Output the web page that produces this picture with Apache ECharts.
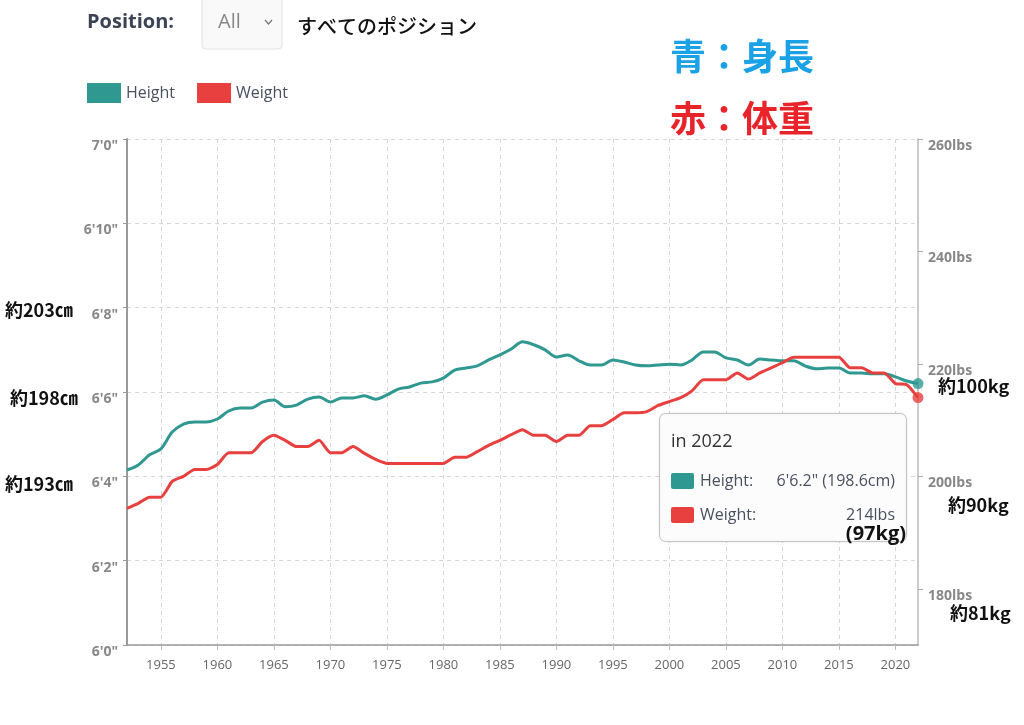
<!DOCTYPE html>
<html><head><meta charset="utf-8">
<script src="https://cdn.jsdelivr.net/npm/echarts@6/dist/echarts.min.js"></script>
<style>html,body{margin:0;padding:0;background:#fff}#c{width:1024px;height:725px}</style>
</head><body><div id="c"></div>
<script>
const years = ['1952','1953','1954','1955','1956','1957','1958','1959',
 '1960','1961','1962','1963','1964','1965','1966','1967','1968','1969',
 '1970','1971','1972','1973','1974','1975','1976','1977','1978','1979',
 '1980','1981','1982','1983','1984','1985','1986','1987','1988','1989',
 '1990','1991','1992','1993','1994','1995','1996','1997','1998','1999',
 '2000','2001','2002','2003','2004','2005','2006','2007','2008','2009',
 '2010','2011','2012','2013','2014','2015','2016','2017','2018','2019',
 '2020','2021','2022'];
// average height in inches
const heights = [76.15,76.27,76.51,76.65,77.05,77.24,77.29,77.29,
 77.36,77.55,77.62,77.62,77.76,77.81,77.65,77.69,77.83,77.88,
 77.76,77.86,77.86,77.91,77.83,77.93,78.07,78.12,78.21,78.24,
 78.33,78.52,78.57,78.62,78.76,78.88,79.02,79.19,79.12,79.00,
 78.83,78.88,78.74,78.64,78.64,78.76,78.71,78.64,78.62,78.64,
 78.66,78.64,78.76,78.95,78.95,78.81,78.76,78.64,78.78,78.76,
 78.74,78.74,78.62,78.55,78.57,78.57,78.45,78.45,78.43,78.43,
 78.36,78.26,78.2];
// average weight in lbs
const weights = [194.3,195.2,196.3,196.3,199.1,200.0,201.2,201.2,
 202.1,204.2,204.2,204.2,206.2,207.3,206.4,205.3,205.3,206.4,
 204.2,204.2,205.3,204.1,203.0,202.3,202.3,202.3,202.3,202.3,
 202.3,203.4,203.4,204.4,205.5,206.4,207.4,208.3,207.3,207.3,
 206.2,207.3,207.3,209.0,209.0,210.1,211.3,211.3,211.5,212.6,
 213.3,214.0,215.2,217.2,217.2,217.2,218.4,217.3,218.4,219.3,
 220.2,221.2,221.2,221.2,221.2,221.2,219.3,219.3,218.4,218.4,
 216.5,216.3,214];
const heightTicks = [72,74,76,78,80,82,84];
const weightTicks = [180,200,220,240,260];
const leftNotes = ['約203㎝','約198㎝','約193㎝'];
const rightNotes = ['約100kg','約90kg','約81kg'];

const TEAL = '#2f9890', RED = '#e8403f';
const FONT = '"Open Sans", "Noto Sans", sans-serif';
const JP = '"Noto Sans CJK JP", sans-serif';
const last = years.length - 1;
const lastH = heights[last], lastW = weights[last];
const ft = Math.floor(lastH / 12);
const hTxt = ft + "'" + (lastH - ft * 12).toFixed(1) + '" (' + (lastH * 2.54).toFixed(1) + 'cm)';
const wTxt = Math.round(lastW) + 'lbs';
const kgTxt = '(' + Math.round(lastW * 0.45359) + 'kg)';
const every5 = (i, v) => Number(v) % 5 === 0;

const chart = echarts.init(document.getElementById('c'), null, {renderer: 'canvas'});
chart.setOption({
  animation: false,
  backgroundColor: '#fff',
  grid: {left: 127, right: 106, top: 139, bottom: 80, containLabel: false},
  legend: {
    data: ['Height', 'Weight'], left: 87, top: 83, icon: 'rect', padding: 0,
    itemWidth: 34, itemHeight: 20, itemGap: 22,
    textStyle: {fontSize: 16, color: '#4a5060', fontFamily: FONT}
  },
  xAxis: {
    type: 'category', data: years, boundaryGap: false,
    axisLine: {lineStyle: {color: '#999', width: 1.5}},
    axisTick: {interval: every5, length: 5, lineStyle: {color: '#bbb'}},
    axisLabel: {interval: every5, color: '#666', fontSize: 13, margin: 14, fontFamily: FONT},
    splitLine: {show: true, interval: every5, lineStyle: {color: '#d6d6d6', type: [4, 4]}}
  },
  yAxis: [{
    type: 'value', min: heightTicks[0], max: heightTicks[heightTicks.length - 1], interval: 2,
    position: 'left',
    axisLine: {show: true, lineStyle: {color: '#999', width: 2}},
    axisTick: {show: true, length: 4, lineStyle: {color: '#999'}},
    axisLabel: {
      formatter: v => Math.floor(v / 12) + "'" + (v % 12) + '"',
      color: '#888', fontWeight: 'bold', fontSize: 14, margin: 9, verticalAlign: 'top', fontFamily: FONT
    },
    splitLine: {lineStyle: {color: '#d6d6d6', type: [4, 4]}}
  }, {
    type: 'value', min: 170, max: 260, position: 'right',
    axisLine: {show: true, lineStyle: {color: '#ccc', width: 2}},
    axisTick: {show: true, customValues: weightTicks, length: 5, lineStyle: {color: '#aaa'}},
    axisLabel: {
      customValues: weightTicks, formatter: v => v + 'lbs',
      color: '#888', fontWeight: 'bold', fontSize: 14, margin: 10, verticalAlign: 'top', fontFamily: FONT
    },
    splitLine: {show: false}
  }],
  series: [{
    name: 'Height', type: 'line', data: heights, yAxisIndex: 0,
    smooth: 0.3, showSymbol: false, symbol: 'none', color: TEAL,
    lineStyle: {width: 3, color: TEAL}, z: 3
  }, {
    name: 'Weight', type: 'line', data: weights, yAxisIndex: 1,
    smooth: 0.2, showSymbol: false, symbol: 'none', color: RED,
    lineStyle: {width: 3, color: RED}, z: 3
  }, {
    name: 'hDot', type: 'scatter', yAxisIndex: 0, symbolSize: 11,
    data: [[years[last], lastH]], itemStyle: {color: TEAL}, z: 5
  }, {
    name: 'wDot', type: 'scatter', yAxisIndex: 1, symbolSize: 11,
    data: [[years[last], lastW]], itemStyle: {color: RED}, z: 5
  }],
  graphic: [
    {type: 'text', left: 87, top: 12, style: {text: 'Position:', font: 'bold 20px ' + FONT, fill: '#3b4354'}},
    {type: 'rect', shape: {x: 202, y: -6, width: 80, height: 55, r: 4}, style: {fill: '#f9f9f9', stroke: '#e2e2e2'}},
    {type: 'text', left: 218, top: 12, style: {text: 'All', font: '20px ' + FONT, fill: '#888'}},
    {type: 'polyline', shape: {points: [[265, 20], [268.5, 24], [272, 20]]}, style: {stroke: '#777', lineWidth: 1.3, fill: null}},
    {type: 'text', left: 297, top: 16, style: {text: 'すべてのポジション', font: '500 20px ' + JP, fill: '#111'}},
    {type: 'text', left: 670, top: 38, style: {text: '青：身長', font: 'bold 36px ' + JP, fill: '#1ba1e6'}},
    {type: 'text', left: 670, top: 100, style: {text: '赤：体重', font: 'bold 36px ' + JP, fill: '#e8232a'}},
    {type: 'text', left: 5, top: 301, style: {text: leftNotes[0], font: 'bold 18px ' + JP, fill: '#111'}},
    {type: 'text', left: 10, top: 389, style: {text: leftNotes[1], font: 'bold 18px ' + JP, fill: '#111'}},
    {type: 'text', left: 5, top: 475, style: {text: leftNotes[2], font: 'bold 18px ' + JP, fill: '#111'}},
    {type: 'text', left: 938, top: 377, style: {text: rightNotes[0], font: 'bold 18px ' + JP, fill: '#111'}},
    {type: 'text', left: 948, top: 496, style: {text: rightNotes[1], font: 'bold 18px ' + JP, fill: '#111'}},
    {type: 'text', left: 950, top: 604, style: {text: rightNotes[2], font: 'bold 18px ' + JP, fill: '#111'}},
    {type: 'rect', z: 100, shape: {x: 659.5, y: 413.5, width: 247, height: 128, r: 6},
      style: {fill: '#fcfcfc', stroke: '#c4c4c4', lineWidth: 1, shadowBlur: 3, shadowColor: 'rgba(0,0,0,0.08)'}},
    {type: 'text', z: 101, x: 671, y: 442, style: {text: 'in ' + years[last], font: '500 18px ' + FONT, fill: '#333', verticalAlign: 'middle'}},
    {type: 'rect', z: 101, shape: {x: 671, y: 473, width: 23, height: 16, r: 2}, style: {fill: TEAL}},
    {type: 'text', z: 101, x: 700, y: 481, style: {text: 'Height:', font: '16px ' + FONT, fill: '#4a5060', verticalAlign: 'middle'}},
    {type: 'text', z: 101, x: 895, y: 481, style: {text: hTxt, font: '16px ' + FONT, fill: '#4a5060', align: 'right', verticalAlign: 'middle'}},
    {type: 'rect', z: 101, shape: {x: 671, y: 507, width: 23, height: 16, r: 2}, style: {fill: RED}},
    {type: 'text', z: 101, x: 700, y: 515, style: {text: 'Weight:', font: '16px ' + FONT, fill: '#4a5060', verticalAlign: 'middle'}},
    {type: 'text', z: 101, x: 895, y: 515, style: {text: wTxt, font: '16px ' + FONT, fill: '#4a5060', align: 'right', verticalAlign: 'middle'}},
    {type: 'text', z: 101, x: 906, y: 534, style: {text: kgTxt, font: 'bold 20px ' + FONT, fill: '#111', align: 'right', verticalAlign: 'middle'}}
  ]
});
</script>
</body></html>
